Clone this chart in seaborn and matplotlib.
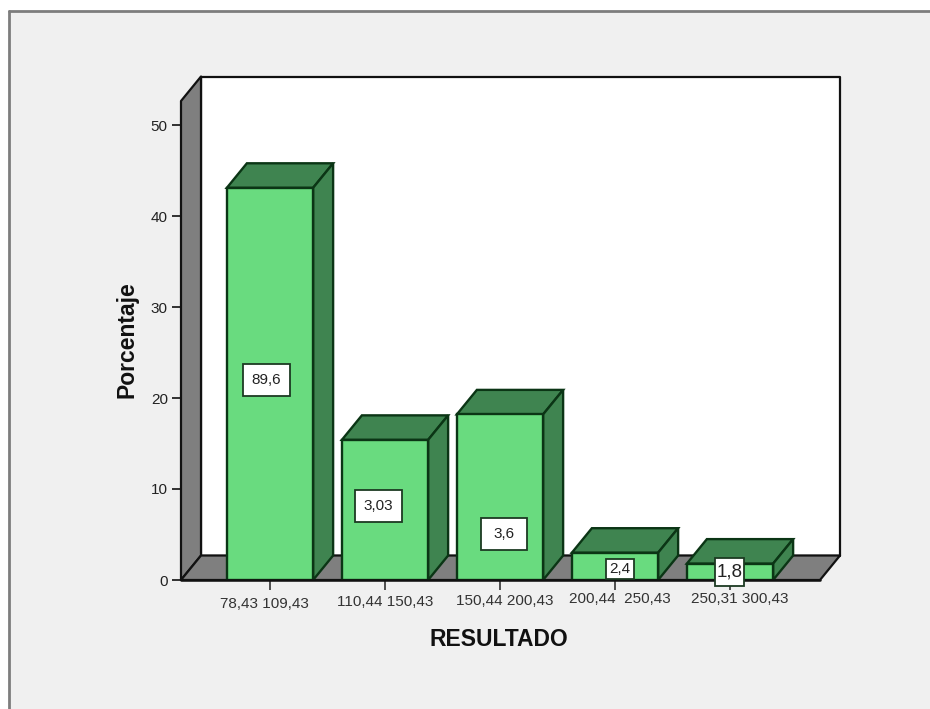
import matplotlib
matplotlib.use("Agg")
import matplotlib.pyplot as plt
from matplotlib.lines import Line2D
from matplotlib.patches import Polygon, Rectangle
import pandas as pd
import seaborn as sns

# Result ranges, bar heights on the percentage axis, and the printed box labels.
# The box labels are annotations carried by the chart and differ from the axis heights.
categories = ["78,43 109,43", "110,44 150,43", "150,44 200,43",
              "200,44  250,43", "250,31 300,43"]
percentages = [43.1, 15.4, 18.2, 3.0, 1.8]
box_labels = ["89,6", "3,03", "3,6", "2,4", "1,8"]
y_ticks = [0, 10, 20, 30, 40, 50]

# Layout in pixels of the 930x709 canvas
W, H = 930, 709
ZERO_Y, PX_PER_UNIT = 580, 9.1
FIRST_X, PX_PER_CAT = 270, 115
LEFT, RIGHT, TOP = 181, 820, 101
DEPTH_PX_X, DEPTH_PX_Y = 20, 24.5
box_rects = [(243, 364, 47, 32), (355, 490, 47, 32), (481, 518, 46, 32),
             (606, 559, 28, 20), (715, 558, 29, 28)]
box_font_sizes = [11, 11, 11, 11, 13.5]
tick_label_pos = [(264, 604), (385, 602), (505, 601), (620, 599), (740, 599)]

GREEN = "#69db7f"
DARK_GREEN = "#3f8450"
EDGE_GREEN = "#0b3515"
GRAY = "#7f7f7f"
PANEL = "#f0f0f0"
INK = "#111111"


def data_x(px):
    return (px - FIRST_X) / PX_PER_CAT


def data_y(px):
    return (ZERO_Y - px) / PX_PER_UNIT


sns.set_theme(style="white")
plt.rcParams["font.family"] = ["Liberation Sans", "DejaVu Sans"]

fig = plt.figure(figsize=(W / 100, H / 100), dpi=100, facecolor="white")

# Light panel with its top and left border
fig.patches.append(Rectangle((9 / W, 0), 1, 1 - 11 / H, transform=fig.transFigure,
                             facecolor=PANEL, edgecolor="none", zorder=-5))
for xs, ys in [((9 / W, 1), (1 - 11 / H, 1 - 11 / H)), ((9 / W, 9 / W), (0, 1 - 11 / H))]:
    fig.add_artist(Line2D(xs, ys, color="#7d7d7d", lw=2, transform=fig.transFigure))

ax = fig.add_axes([LEFT / W, (H - ZERO_Y) / H, (RIGHT - LEFT) / W, (ZERO_Y - TOP) / H])
ax.patch.set_visible(False)
for spine in ax.spines.values():
    spine.set_visible(False)

df = pd.DataFrame({"RESULTADO": categories, "Porcentaje": percentages})
sns.barplot(data=df, x="RESULTADO", y="Porcentaje", order=categories, color=GREEN,
            saturation=1, width=0.75, edgecolor=EDGE_GREEN, linewidth=1.7, ax=ax, zorder=4)
ax.set_xlim(data_x(LEFT), data_x(RIGHT))
ax.set_ylim(0, data_y(TOP))

dx = DEPTH_PX_X / PX_PER_CAT
dy = DEPTH_PX_Y / PX_PER_UNIT
x0, x1 = ax.get_xlim()
ytop = ax.get_ylim()[1]
frame = dict(edgecolor=INK, linewidth=1.6, clip_on=False, joinstyle="round")

# Back wall, left wall and floor of the box
ax.add_patch(Polygon([(x0 + dx, dy), (x1 + dx, dy), (x1 + dx, ytop + dy), (x0 + dx, ytop + dy)],
                     facecolor="white", zorder=1, **frame))
ax.add_patch(Polygon([(x0, 0), (x0 + dx, dy), (x0 + dx, ytop + dy), (x0, ytop)],
                     facecolor=GRAY, zorder=2, **frame))
ax.add_patch(Polygon([(x0, 0), (x1, 0), (x1 + dx, dy), (x0 + dx, dy)],
                     facecolor=GRAY, zorder=2, **frame))

# Top and side faces extruded from each bar
for bar in ax.patches:
    if not isinstance(bar, Rectangle) or bar.get_zorder() != 4:
        continue
    left, right, h = bar.get_x(), bar.get_x() + bar.get_width(), bar.get_height()
    side = dict(facecolor=DARK_GREEN, edgecolor=EDGE_GREEN, linewidth=1.7, clip_on=False, zorder=3.5)
    ax.add_patch(Polygon([(left, h), (right, h), (right + dx, h + dy), (left + dx, h + dy)], **side))
    ax.add_patch(Polygon([(right, 0), (right + dx, dy), (right + dx, h + dy), (right, h)], **side))

# Boxed labels on the bars
for text, size, (bx, by, bw, bh) in zip(box_labels, box_font_sizes, box_rects):
    ax.add_patch(Rectangle((data_x(bx), data_y(by + bh)), bw / PX_PER_CAT, bh / PX_PER_UNIT,
                           facecolor="white", edgecolor="#1c3a22", linewidth=1.3,
                           clip_on=False, zorder=6))
    ax.text(data_x(bx + bw / 2), data_y(by + bh / 2), text, ha="center", va="center",
            fontsize=size, color="#222222", zorder=7, clip_on=False)

# Axes furniture
ax.set_yticks(y_ticks)
ax.tick_params(axis="y", left=True, length=6.5, width=1.2, color=INK, labelsize=11,
               labelcolor="#222222", pad=3)
ax.set_xticks(range(len(categories)))
ax.set_xticklabels([])
ax.tick_params(axis="x", bottom=True, length=7.5, width=1.2, color="#333333", zorder=5)
ax.set_xlabel("")
ax.set_ylabel("")
ax.add_line(Line2D([x0, x1], [0, 0], color=INK, lw=1.8, clip_on=False, zorder=5))

for text, (px, py) in zip(categories, tick_label_pos):
    ax.text(data_x(px), data_y(py), text, ha="center", va="center", fontsize=11,
            color="#333333", clip_on=False)

fig.text(499 / W, 1 - 640 / H, "RESULTADO", ha="center", va="center", fontsize=16.5,
         fontweight="bold", color="#111111")
fig.text(127 / W, 1 - 340 / H, "Porcentaje", ha="center", va="center", rotation=90,
         fontsize=16.5, fontweight="bold", color="#111111")

fig.savefig("out.png", dpi=100)
